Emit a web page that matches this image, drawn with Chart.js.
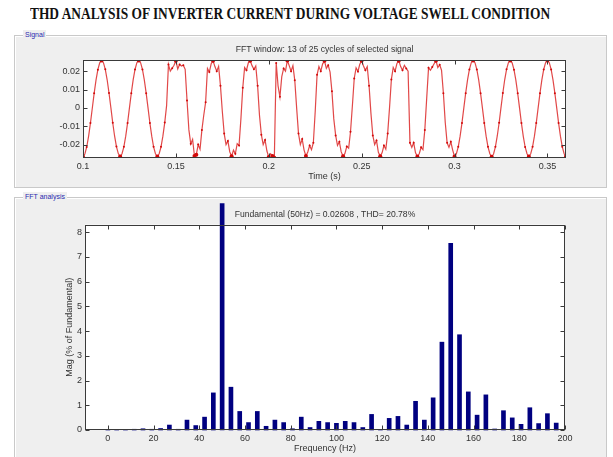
<!DOCTYPE html>
<html>
<head>
<meta charset="utf-8">
<script src="https://cdn.jsdelivr.net/npm/chart.js@4.4.1/dist/chart.umd.min.js"></script>
<style>
  html, body { margin: 0; padding: 0; background: #fff; }
  body { width: 613px; height: 457px; position: relative; overflow: hidden; font-family: 'Liberation Sans', Arial, sans-serif; }
  #pageTitle { position: absolute; left: 30px; top: 5px; font: bold 13.4px 'Liberation Serif', 'Times New Roman', serif; color: #111; white-space: nowrap; transform-origin: left top; transform: scaleY(1.2); }
  .panel { position: absolute; border: 1px solid #c9c9c9; box-shadow: inset 1px 1px 0 #fff, 1px 1px 0 #fff; background: #efefef; }
  .panel span { position: absolute; left: 8px; top: -6px; padding: 0 2px; font-size: 7px; color: #2b2bb0; background: #efefef; line-height: 10px; }
  canvas { position: absolute; }
</style>
</head>
<body>
<div id="pageTitle">THD ANALYSIS OF INVERTER CURRENT DURING VOLTAGE SWELL CONDITION</div>
<div class="panel" style="left:14px; top:35px; width:591px; height:151px;"><span>Signal</span></div>
<div class="panel" style="left:14px; top:197px; width:591px; height:262px;"><span>FFT analysis</span></div>
<canvas id="signalChart" width="592" height="150" style="left:14px; top:36px;"></canvas>
<canvas id="fftChart" width="592" height="259" style="left:14px; top:198px;"></canvas>
<script>
// --- signal (inverter current, 13 cycles, sampled every 1 ms) ---
const signalStart = 0.1;
const sampleStep = 0.001;
const currentA = [
  -0.0266, -0.0251, -0.0213, -0.0155, -0.0083, -0.0002, 0.0079, 0.0151, 0.0208, 0.0245, 0.0258, 0.0246, 0.0210, 0.0153, 0.0081, 0.0001, -0.0081, -0.0153, -0.0211, -0.0249,
  -0.0265, -0.0250, -0.0212, -0.0154, -0.0082, 0.0000, 0.0080, 0.0152, 0.0209, 0.0246, 0.0258, 0.0246, 0.0209, 0.0152, 0.0080, 0.0000, -0.0082, -0.0154, -0.0212, -0.0250,
  -0.0265, -0.0250, -0.0212, -0.0154, -0.0080, 0.0012, 0.0236, 0.0200, 0.0216, 0.0232, 0.0257, 0.0212, 0.0236, 0.0228, 0.0232, 0.0210, 0.0040, -0.0120, -0.0196, -0.0172,
  -0.0262, -0.0255, -0.0200, -0.0225, -0.0120, -0.0040, 0.0030, 0.0215, 0.0195, 0.0240, 0.0257, 0.0225, 0.0200, 0.0226, 0.0120, -0.0020, -0.0140, -0.0200, -0.0180, -0.0240,
  -0.0264, -0.0230, -0.0250, -0.0195, -0.0205, -0.0060, 0.0110, 0.0220, 0.0205, 0.0245, 0.0257, 0.0230, 0.0210, 0.0228, 0.0120, -0.0040, -0.0146, -0.0200, -0.0175, -0.0235,
  -0.0268, -0.0250, -0.0262, -0.0272, 0.0245, 0.0120, 0.0060, 0.0170, 0.0215, 0.0200, 0.0258, 0.0230, 0.0200, 0.0230, 0.0150, 0.0000, -0.0140, -0.0200, -0.0170, -0.0230,
  -0.0262, -0.0240, -0.0205, -0.0228, -0.0190, -0.0020, 0.0180, 0.0225, 0.0200, 0.0240, 0.0256, 0.0215, 0.0232, 0.0195, 0.0090, -0.0060, -0.0150, -0.0205, -0.0185, -0.0240,
  -0.0264, -0.0248, -0.0210, -0.0220, -0.0130, 0.0010, 0.0160, 0.0218, 0.0198, 0.0238, 0.0257, 0.0228, 0.0205, 0.0225, 0.0120, -0.0030, -0.0150, -0.0200, -0.0178, -0.0242,
  -0.0263, -0.0245, -0.0205, -0.0225, -0.0140, 0.0000, 0.0155, 0.0220, 0.0200, 0.0242, 0.0257, 0.0225, 0.0205, 0.0232, 0.0215, 0.0200, -0.0190, -0.0215, -0.0190, -0.0245,
  -0.0265, -0.0250, -0.0215, -0.0228, -0.0120, 0.0050, 0.0218, 0.0205, 0.0222, 0.0240, 0.0257, 0.0220, 0.0235, 0.0205, 0.0080, -0.0080, -0.0190, -0.0215, -0.0185, -0.0230,
  -0.0265, -0.0250, -0.0212, -0.0154, -0.0082, 0.0000, 0.0080, 0.0152, 0.0209, 0.0246, 0.0258, 0.0246, 0.0209, 0.0152, 0.0080, 0.0000, -0.0082, -0.0154, -0.0212, -0.0250,
  -0.0266, -0.0251, -0.0212, -0.0153, -0.0081, 0.0001, 0.0081, 0.0153, 0.0210, 0.0246, 0.0258, 0.0245, 0.0208, 0.0151, 0.0079, -0.0001, -0.0083, -0.0155, -0.0213, -0.0250,
  -0.0265, -0.0250, -0.0212, -0.0154, -0.0082, 0.0000, 0.0080, 0.0152, 0.0209, 0.0246, 0.0258, 0.0246, 0.0209, 0.0152, 0.0080, 0.0000, -0.0082, -0.0154, -0.0212, -0.0250,
  -0.0265
];
const signalXTicks = [0.1, 0.15, 0.2, 0.25, 0.3, 0.35];
const signalYTicks = [-0.02, -0.01, 0, 0.01, 0.02];

// --- FFT (bins of 50/13 Hz) ---
const fftFreqHz = [0, 3.85, 7.69, 11.54, 15.38, 19.23, 23.08, 26.92, 30.77, 34.62, 38.46, 42.31, 46.15, 50,
  53.85, 57.69, 61.54, 65.38, 69.23, 73.08, 76.92, 80.77, 84.62, 88.46, 92.31, 96.15, 100,
  103.85, 107.69, 111.54, 115.38, 119.23, 123.08, 126.92, 130.77, 134.62, 138.46, 142.31, 146.15, 150,
  153.85, 157.69, 161.54, 165.38, 169.23, 173.08, 176.92, 180.77, 184.62, 188.46, 192.31, 196.15];
const fftMagPct = [0.02, 0.02, 0.02, 0.03, 0.05, 0.03, 0.06, 0.20, 0.03, 0.40, 0.18, 0.52, 1.50, 9.15,
  1.73, 0.75, 0.30, 0.75, 0.15, 0.40, 0.30, 0.05, 0.52, 0.10, 0.35, 0.30, 0.27,
  0.35, 0.30, 0.10, 0.63, 0.02, 0.47, 0.55, 0.20, 1.16, 0.40, 1.30, 3.55, 7.54,
  3.85, 1.54, 0.60, 1.42, 0.04, 0.78, 0.49, 0.23, 0.90, 0.26, 0.66, 0.28];
const fftXTicks = [0, 20, 40, 60, 80, 100, 120, 140, 160, 180, 200];
const fftYTicks = [0, 1, 2, 3, 4, 5, 6, 7, 8];

const textColor = '#333';
const smallFont = { family: "'Liberation Sans', Arial, sans-serif", size: 9 };
const titleFont = { family: "'Liberation Sans', Arial, sans-serif", size: 8.6, weight: 'normal' };

// white axes background, box and inward tick marks (matlab look)
const matlabAxes = {
  id: 'matlabAxes',
  beforeDatasetsDraw(chart) {
    const { ctx, chartArea: a } = chart;
    ctx.save();
    ctx.fillStyle = '#fff';
    ctx.fillRect(a.left, a.top, a.right - a.left, a.bottom - a.top);
    ctx.restore();
  },
  afterDraw(chart) {
    const { ctx, chartArea: a, scales } = chart;
    const L = Math.round(a.left) + 0.5, R = Math.round(a.right) - 0.5;
    const T = Math.round(a.top) + 0.5, B = Math.round(a.bottom) - 0.5;
    ctx.save();
    ctx.strokeStyle = '#3a3a3a';
    ctx.lineWidth = 1;
    ctx.strokeRect(L, T, R - L, B - T);
    ctx.beginPath();
    scales.x.ticks.forEach(t => {
      const x = Math.round(scales.x.getPixelForValue(t.value)) + 0.5;
      ctx.moveTo(x, B); ctx.lineTo(x, B - 4);
      ctx.moveTo(x, T); ctx.lineTo(x, T + 4);
    });
    scales.y.ticks.forEach(t => {
      const y = Math.round(scales.y.getPixelForValue(t.value)) + 0.5;
      ctx.moveTo(L, y); ctx.lineTo(L + 4, y);
      ctx.moveTo(R, y); ctx.lineTo(R - 4, y);
    });
    ctx.stroke();
    ctx.restore();
  }
};

const fixTicks = list => scale => { scale.ticks = list.map(v => ({ value: v })); };
const noGrid = { display: false, drawTicks: false };

new Chart(document.getElementById('signalChart'), {
  type: 'line',
  data: {
    datasets: [{
      data: currentA.map((v, i) => ({ x: +(signalStart + i * sampleStep).toFixed(3), y: v })),
      borderColor: 'rgba(220,40,40,0.85)',
      borderWidth: 1.2,
      tension: 0,
      pointRadius: c => (Math.abs(c.raw.y) > 0.0254 ? 2 : (c.dataIndex % 2 === 0 ? 1 : 0)),
      pointBackgroundColor: 'rgb(210,10,10)',
      pointBorderColor: 'rgb(210,10,10)',
      pointBorderWidth: 0,
    }],
  },
  options: {
    responsive: false,
    animation: false,
    layout: { padding: { left: 0, right: 40, top: 0, bottom: 0 } },
    plugins: {
      legend: { display: false },
      tooltip: { enabled: false },
      title: {
        display: true,
        fullSize: false,
        text: 'FFT window: 13 of 25 cycles of selected signal',
        color: textColor,
        font: titleFont,
        padding: { top: 8, bottom: 6 },
      },
    },
    scales: {
      x: {
        type: 'linear', min: 0.1, max: 0.36,
        grid: noGrid, border: { display: false },
        afterBuildTicks: fixTicks(signalXTicks),
        afterFit: s => { s.height = 28; },
        ticks: { color: textColor, font: smallFont, padding: 3, maxRotation: 0, callback: v => String(v) },
        title: { display: true, text: 'Time (s)', color: textColor, font: smallFont, padding: { top: 0, bottom: 4 } },
      },
      y: {
        min: -0.0273, max: 0.0259,
        grid: noGrid, border: { display: false },
        afterBuildTicks: fixTicks(signalYTicks),
        afterFit: s => { s.width = 69; },
        ticks: { color: textColor, font: smallFont, padding: 3, callback: v => String(v) },
      },
    },
  },
  plugins: [matlabAxes],
});

new Chart(document.getElementById('fftChart'), {
  type: 'bar',
  data: {
    datasets: [{
      data: fftFreqHz.map((f, i) => ({ x: f, y: fftMagPct[i] })),
      backgroundColor: '#000080',
      barThickness: 4,
      clip: false,
    }],
  },
  options: {
    responsive: false,
    animation: false,
    layout: { padding: { left: 50, right: 41, top: 0, bottom: 0 } },
    plugins: {
      legend: { display: false },
      tooltip: { enabled: false },
      title: {
        display: true,
        fullSize: false,
        text: 'Fundamental (50Hz) = 0.02608 , THD= 20.78%',
        color: textColor,
        font: titleFont,
        padding: { top: 11.5, bottom: 4.8 },
      },
    },
    scales: {
      x: {
        type: 'linear', min: -10, max: 200, offset: false,
        grid: noGrid, border: { display: false },
        afterBuildTicks: fixTicks(fftXTicks),
        afterFit: s => { s.height = 27; },
        ticks: { color: textColor, font: smallFont, padding: 3, maxRotation: 0 },
        title: { display: true, text: 'Frequency (Hz)', color: textColor, font: smallFont, padding: { top: 0, bottom: 2.6 } },
      },
      y: {
        min: 0, max: 8.3,
        grid: noGrid, border: { display: false },
        afterBuildTicks: fixTicks(fftYTicks),
        afterFit: s => { s.width = 21; },
        ticks: { color: textColor, font: smallFont, padding: 3 },
        title: { display: true, text: 'Mag (% of Fundamental)', color: textColor, font: smallFont, padding: { top: 0, bottom: 0 } },
      },
    },
  },
  plugins: [matlabAxes],
});
</script>
</body>
</html>
